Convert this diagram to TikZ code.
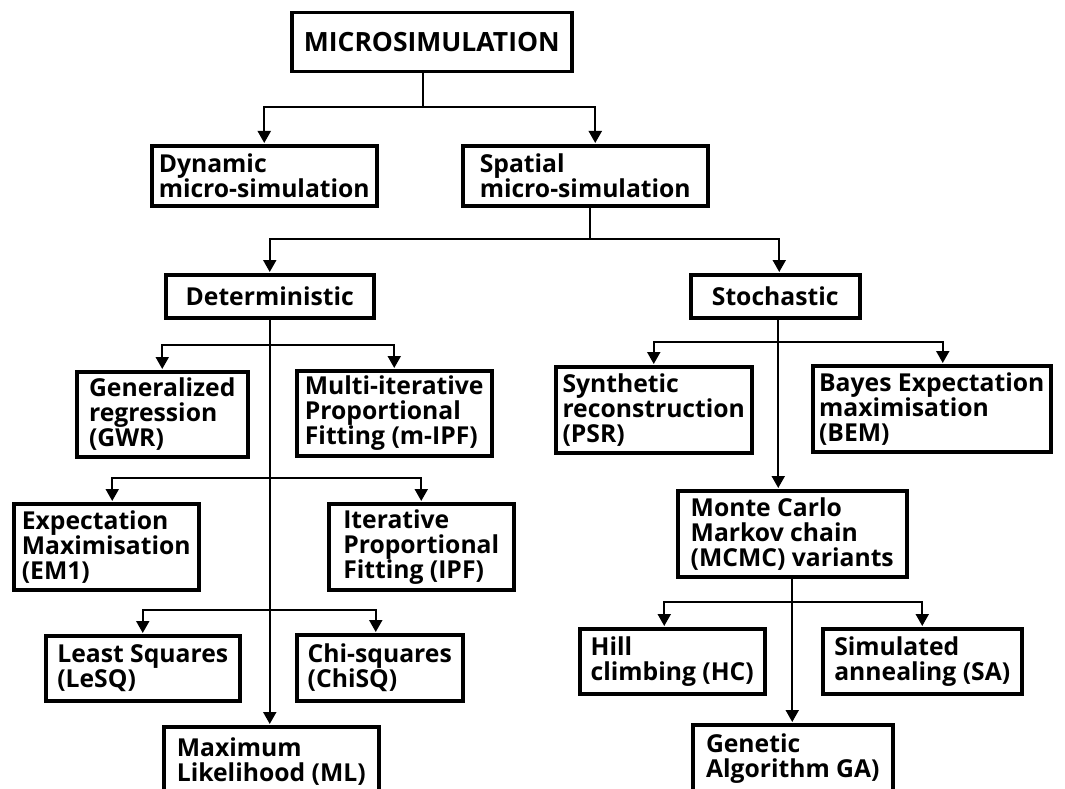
\documentclass[tikz,border=0pt]{standalone}
\usepackage{fontspec}
\setmainfont{Open Sans}
\usetikzlibrary{arrows.meta}

\tikzset{
  box/.style={draw, line width=3.5pt, align=left, anchor=north west, inner sep=0pt,
    font=\fontsize{24.7}{25}\selectfont\bfseries},
  link/.style={line width=2pt},
  arr/.style={link, -{Triangle[width=13pt,length=12pt]}, shorten >=1pt}
}

\begin{document}
\begin{tikzpicture}[x=1pt,y=-1pt]
    \clip (0,0) rectangle (1065,789);
    \fill[white] (0,0) rectangle (1065,789);
    \node[box, minimum width=280, minimum height=59, font=\fontsize{26.5}{27}\selectfont\bfseries] (micro) at (290,11) {MICROSIMULATION};
    \node[box, minimum width=225, minimum height=60] (dyn) at (150,144) {Dynamic\\micro-simulation};
    \node[box, minimum width=245, minimum height=60] (spat) at (461,144) {Spatial\\micro-simulation};
    \node[box, minimum width=208, minimum height=43] (det) at (164,273) {Deterministic};
    \node[box, minimum width=169, minimum height=43] (stoch) at (689,273) {Stochastic};
    \node[box, minimum width=171, minimum height=85] (gwr) at (75,370) {Generalized\\regression\\(GWR)};
    \node[box, minimum width=195, minimum height=85] (mipf) at (295,369) {Multi-iterative\\Proportional\\Fitting (m-IPF)};
    \node[box, minimum width=185, minimum height=86] (em) at (12,502) {Expectation\\Maximisation\\(EM1)};
    \node[box, minimum width=185, minimum height=86] (ipf) at (327,502) {Iterative\\Proportional\\Fitting (IPF)};
    \node[box, minimum width=194, minimum height=65] (lesq) at (44,634) {Least Squares\\(LeSQ)};
    \node[box, minimum width=166, minimum height=66] (chisq) at (295,633) {Chi-squares\\(ChiSQ)};
    \node[box, minimum width=215, minimum height=70] (ml) at (162,725) {Maximum\\Likelihood (ML)};
    \node[box, minimum width=196, minimum height=86] (psr) at (554,365) {Synthetic\\reconstruction\\(PSR)};
    \node[box, minimum width=238, minimum height=86] (bem) at (811,364) {Bayes Expectation\\maximisation\\(BEM)};
    \node[box, minimum width=229, minimum height=86] (mcmc) at (676,489) {Monte Carlo\\Markov chain\\(MCMC) variants};
    \node[box, minimum width=185, minimum height=65] (hc) at (578,627) {Hill\\climbing (HC)};
    \node[box, minimum width=199, minimum height=65] (sa) at (821,627) {Simulated\\annealing (SA)};
    \node[box, minimum width=200, minimum height=68] (ga) at (691,723) {Genetic\\Algorithm GA)};

    \coordinate (m0) at ([xshift=-9pt]micro.south);
    \coordinate (p0) at ([xshift=5pt]spat.south);
    \coordinate (s0) at ([xshift=3pt]stoch.south);

    \draw[arr] (m0) -- ++(0,34) -| (dyn.north);
    \draw[arr] (m0) -- ++(0,34) -| ([xshift=10pt]spat.north);
    \draw[arr] (p0) -- ++(0,31) -| (det.north);
    \draw[arr] (p0) -- ++(0,31) -| ([xshift=4pt]stoch.north);
    \draw[arr] (det.south) -- (det.south |- ml.north);
    \draw[arr] (det.south) -- ++(0,25) -| (gwr.north);
    \draw[arr] (det.south) -- ++(0,25) -| (mipf.north);
    \draw[arr] (det.south) -- ++(0,158) -| ([xshift=6pt]em.north);
    \draw[arr] (det.south) -- ++(0,158) -| (ipf.north);
    \draw[arr] (det.south) -- ++(0,290) -| (lesq.north);
    \draw[arr] (det.south) -- ++(0,290) -| ([xshift=-4pt]chisq.north);
    \draw[arr] (s0) -- (s0 |- mcmc.north);
    \draw[arr] (s0) -- ++(0,22) -| (psr.north);
    \draw[arr] (s0) -- ++(0,22) -| ([xshift=11pt]bem.north);
    \draw[arr] (mcmc.south) -- (mcmc.south |- ga.north);
    \draw[arr] (mcmc.south) -- ++(0,23) -| ([xshift=-8pt]hc.north);
    \draw[arr] (mcmc.south) -- ++(0,23) -| (sa.north);
\end{tikzpicture}
\end{document}
